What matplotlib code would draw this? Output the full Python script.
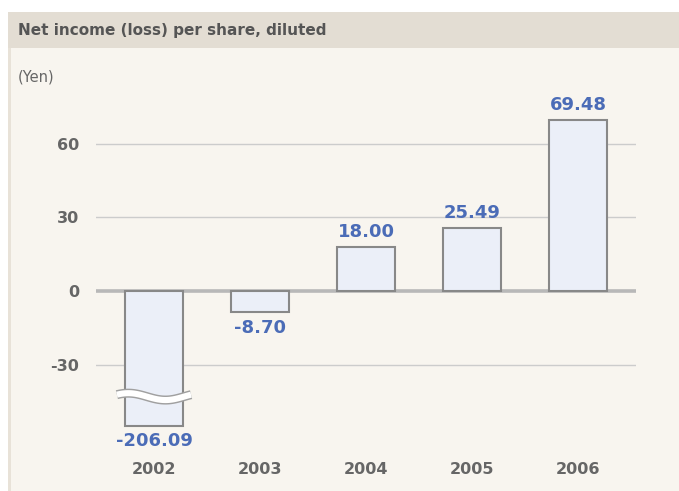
import numpy as np
import matplotlib.pyplot as plt
from matplotlib.patches import Rectangle

# data
years = ["2002", "2003", "2004", "2005", "2006"]
eps = [-206.09, -8.70, 18.00, 25.49, 69.48]
value_labels = ["-206.09", "-8.70", "18.00", "25.49", "69.48"]
yticks = [60, 30, 0, -30]
clip_floor = -55.0   # where the 2002 bar is cut off
break_level = -43.0  # where the wavy break mark sits

bg = "#f8f5ef"
band = "#e3ddd3"
bar_fill = "#ebeff8"
bar_edge = "#888888"
label_blue = "#4b6cb7"
tick_gray = "#666666"

fig = plt.figure(figsize=(6.79, 4.91), dpi=100)
fig.patch.set_facecolor("white")

# panel and title band
fig.add_artist(Rectangle((8 / 679, 0), 1, 1 - 48 / 491, transform=fig.transFigure,
                         facecolor=bg, edgecolor="none", zorder=0))
fig.add_artist(Rectangle((8 / 679, 0), 3 / 679, 1 - 48 / 491, transform=fig.transFigure,
                         facecolor="#e8e2d8", edgecolor="none", zorder=0))
fig.add_artist(Rectangle((8 / 679, 1 - 48 / 491), 1, 36 / 491, transform=fig.transFigure,
                         facecolor=band, edgecolor="none", zorder=0))
fig.text(18 / 679, 1 - 31 / 491, "Net income (loss) per share, diluted", ha="left", va="center",
         fontsize=11, fontweight="bold", color="#555555")
fig.text(18 / 679, 1 - 77 / 491, "(Yen)", ha="left", va="center", fontsize=10.5, color="#666666")

ax = fig.add_axes([96 / 679, 1 - 431 / 491, 540 / 679, (431 - 99.4) / 491])
ax.set_facecolor("none")
x = np.arange(len(years))
shown = np.maximum(eps, clip_floor)

for y in yticks:
    if y == 0:
        ax.axhline(y, color="#b8b8b8", lw=2.6, zorder=1)
    else:
        ax.axhline(y, color="#cccccc", lw=1.0, zorder=1)

ax.bar(x, shown, width=0.55, color=bar_fill, edgecolor=bar_edge, linewidth=1.5, zorder=2)

# break mark on the clipped bar
clipped = [i for i, v in enumerate(eps) if v < clip_floor]
for i in clipped:
    wx = np.linspace(i - 0.35, i + 0.35, 80)
    wy = break_level + 1.4 * np.sin((wx - i + 0.35) / 0.7 * 2 * np.pi + 0.6)
    ax.plot(wx, wy, color="#a0a0a0", lw=6.5, zorder=3, solid_capstyle="butt")
    ax.plot(wx, wy, color="white", lw=4.4, zorder=4, solid_capstyle="butt")

for xi, v, lab in zip(x, shown, value_labels):
    if v >= 0:
        ax.text(xi, v + 2.5, lab, ha="center", va="bottom", fontsize=13,
                fontweight="bold", color=label_blue, zorder=5)
    else:
        ax.text(xi, v - 2.5, lab, ha="center", va="top", fontsize=13,
                fontweight="bold", color=label_blue, zorder=5)

ax.set_xlim(-0.547, 4.547)
ax.set_ylim(-57, 78)
ax.set_yticks(yticks)
ax.set_yticklabels([str(t) for t in yticks])
ax.set_xticks(x)
ax.set_xticklabels(years)
ax.tick_params(axis="y", length=0, pad=12, labelsize=11.5, labelcolor=tick_gray)
ax.tick_params(axis="x", length=0, pad=22, labelsize=11.5, labelcolor=tick_gray)
for lab in ax.get_xticklabels() + ax.get_yticklabels():
    lab.set_fontweight("bold")
for s in ax.spines.values():
    s.set_visible(False)

fig.savefig("out.png", dpi=100, facecolor=fig.get_facecolor())
